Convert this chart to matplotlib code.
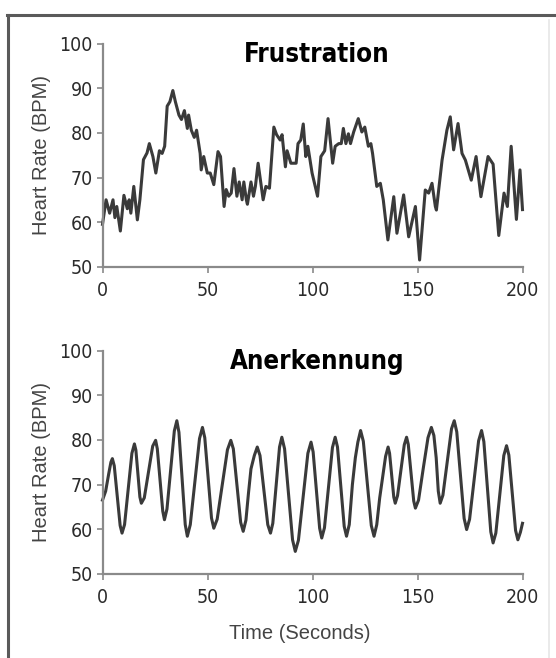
import numpy as np
import matplotlib
matplotlib.use("Agg")
import matplotlib.pyplot as plt
from matplotlib.lines import Line2D
from matplotlib import font_manager

# Frustration trace (time s, heart rate bpm)
frust_t = [0, 1.7, 3.4, 5, 5.9, 6.8, 8.5, 10.2, 11.8, 12.7, 13.5, 14.9, 16.6, 17.8,
           19.5, 21.2, 22.3, 24.0, 25.4, 27.1, 28.4, 29.6, 30.8, 32.1, 33.5, 34.7,
           36.4, 37.6, 39.0, 40.4, 41.0, 42.3, 43.7, 44.8, 46.5, 47.0, 48.2, 49.9,
           51.3, 53.0, 55.0, 56.2, 57.9, 58.9, 60.1, 61.3, 62.6, 64.0, 65.1, 66.5,
           67.3, 68.5, 69.0, 70.7, 71.9, 72.8, 74.1, 76.5, 77.8, 79.5, 81.6, 82.9,
           84.6, 85.5, 87.1, 87.9, 89.7, 92.2, 93.1, 94.4, 95.6, 96.8, 97.8, 99.8,
           102.4, 104.0, 105.8, 107.4, 109.6, 110.8, 112.5, 113.7, 114.7, 115.9,
           117.1, 118.1, 119.6, 121.8, 123.5, 124.9, 126.6, 127.8, 128.6, 130.6,
           132.3, 133.7, 135.9, 138.7, 140.2, 143.4, 145.8, 149.0, 151.0, 153.7,
           155.3, 156.9, 158.5, 159.0, 161.7, 162.5, 164.0, 165.6, 167.2, 169.3,
           171.2, 172.8, 175.6, 177.9, 180.2, 183.6, 186.0, 188.7, 191.2, 192.8,
           194.6, 197.1, 198.8, 200.0]
frust_v = [59.5, 65, 62, 65, 61, 63.5, 58, 66, 63, 65, 62, 68, 60.5, 65,
           74, 75.5, 77.6, 74.7, 71, 76, 75.4, 77, 86, 87, 89.5, 87,
           84, 83, 85, 81, 84, 80.6, 79, 80.6, 75.4, 71.7, 74.7, 71,
           71, 68.4, 75.8, 74.7, 63.5, 67.3, 65.8, 66.5, 72, 65.8, 69, 65,
           69, 65, 64, 69, 65.8, 68, 73.2, 65, 68, 67.6, 81.3, 79.6,
           78.4, 79.6, 72.4, 76, 73.2, 73.2, 77.6, 78.4, 82, 74.7, 77, 71,
           65.8, 74.7, 76, 83.2, 73.2, 77, 77.6, 77.6, 81, 77.6,
           79.8, 77.6, 80.2, 83.2, 80.2, 81.3, 77, 77.6, 75.4, 68,
           68.7, 65, 56, 65.7, 57.5, 66.1, 56.7, 63.5, 51.5, 67.2,
           66.5, 68.7, 63.5, 62.7, 73.9, 76.2, 80.6, 83.6, 76.2, 82.1,
           75.4, 73.9, 69.4, 74.7, 65.7, 74.7, 73, 57, 66.5, 63.5,
           77, 60.6, 71.7, 62.8]

# Anerkennung trace
anerk_t = [0, 1.5, 3.0, 4.0, 4.7, 5.6, 7.0, 8.4, 9.3, 10.5, 12.25, 14.0, 15.2, 15.9,
           16.85, 17.8, 18.5, 19.9, 21.9, 23.9, 25.3, 26.1, 27.4, 28.7, 29.5, 30.7,
           32.45, 34.2, 35.4, 36.4, 37.9, 39.4, 40.4, 41.8, 44.0, 46.2, 47.6, 48.7,
           50.3, 51.9, 53.0, 54.6, 57.05, 59.5, 61.1, 62.3, 64.05, 65.8, 67.0, 68.3,
           69.5, 70.7, 72.3, 73.7, 75.0, 76.85, 78.7, 80.0, 81.1, 82.7, 84.3, 85.4,
           86.7, 88.6, 90.5, 91.8, 93.3, 95.55, 97.8, 99.3, 100.3, 101.85, 103.4,
           104.4, 105.7, 107.6, 109.5, 110.8, 111.9, 113.5, 115.1, 116.2, 117.5,
           119.0, 120.4, 121.6, 122.9, 124.2, 126.1, 128.0, 129.3, 130.6, 132.0,
           133.2, 134.8, 136.0, 136.7, 137.7, 138.7, 139.4, 140.5, 142.1, 143.7,
           144.8, 145.6, 146.9, 148.2, 149.0, 150.5, 152.8, 155.0, 156.6, 157.8,
           158.9, 159.9, 160.8, 162.1, 164.15, 166.2, 167.5, 168.7, 170.45, 172.2,
           173.4, 174.8, 176.95, 179.1, 180.5, 181.6, 183.25, 184.9, 186.0, 187.3,
           189.2, 191.1, 192.4, 193.5, 195.1, 196.7, 197.8, 199.0, 200.0]
anerk_v = [66.5, 68.5, 72.5, 75, 75.8, 74.2, 67.5, 60.8, 59.1, 61, 69, 77, 79.1, 77.7,
           72.5, 67.2, 65.8, 67, 72.8, 78.6, 79.9, 78, 71, 64, 62.1, 64.5,
           73.2, 82, 84.3, 81.7, 71.3, 61, 58.4, 61, 70.6, 80.3, 82.8, 80.5,
           71.5, 62.5, 60.2, 62.2, 70, 77.8, 79.9, 78, 69.7, 61.5, 59.5, 62,
           68, 73.5, 76.5, 78.4, 76.5, 68.7, 61, 59.1, 61.3, 69.8, 78.4, 80.6,
           78, 67.8, 57.6, 55, 57.5, 67.2, 77, 79.5, 77.3, 68.7, 60.2,
           58, 60.3, 69.3, 78.3, 80.6, 78.4, 69.5, 60.6, 58.4, 61,
           70, 76, 79.5, 82.1, 79.7, 70.2, 60.8, 58.4, 61, 67,
           71, 76.3, 78.4, 77, 72, 67.2, 65.8, 67.5, 73.2, 78.9,
           80.6, 79, 72.6, 66.3, 64.7, 66.5, 73.8, 80.5, 82.8, 81,
           76, 68.5, 65.8, 67.6, 75, 82.5, 84.3, 81.8, 72.1, 62.4,
           59.9, 62.2, 71, 79.8, 82.1, 79.6, 69.5, 59.4, 56.9, 59.1,
           67.8, 76.5, 78.7, 76.6, 68.2, 59.7, 57.6, 59.3, 61.3]

xticks = [0, 50, 100, 150, 200]
yticks = [50, 60, 70, 80, 90, 100]
titles = ["Frustration", "Anerkennung"]

# look for a narrow font, otherwise Roboto
narrow = None
for f in font_manager.fontManager.ttflist:
    n = f.name.lower()
    if 'narrow' in n or 'condensed' in n:
        narrow = f.name
        break
    if str(f.stretch) in ('condensed', 'semi-condensed', 'extra-condensed'):
        narrow = f.name
        break
if narrow is None:
    narrow = 'Roboto'
    tick_size, title_size = 12.5, 17
else:
    tick_size, title_size = 14, 18.5
tick_font = [narrow, 'DejaVu Sans']
label_font = ['Liberation Sans', 'DejaVu Sans']

fig = plt.figure(figsize=(5.56, 6.58), dpi=100)
W, H = 556, 658

def make_axes(top_px):
    ax = fig.add_axes([102.5 / W, (H - top_px - 223) / H, 420 / W, 223 / H])
    return ax

ax1 = make_axes(43.7)
ax2 = make_axes(350.7)

for ax, t, v, title in [(ax1, frust_t, frust_v, titles[0]), (ax2, anerk_t, anerk_v, titles[1])]:
    ax.plot(t, v, color='#3a3a3a', lw=2.2, solid_joinstyle='round', clip_on=False)
    ax.set_xlim(0, 200)
    ax.set_ylim(50, 100)
    ax.set_xticks(xticks)
    ax.set_yticks(yticks)
    for s in ['top', 'right']:
        ax.spines[s].set_visible(False)
    for s in ['left', 'bottom']:
        ax.spines[s].set_color('#8a8a8a')
        ax.spines[s].set_linewidth(1.6)
    ax.tick_params(axis='both', direction='out', length=4, width=1.2, color='#8a8a8a',
                   labelcolor='#2b2b2b', labelsize=tick_size)
    ax.tick_params(axis='y', pad=3)
    ax.tick_params(axis='x', pad=6)
    for lab in ax.get_xticklabels() + ax.get_yticklabels():
        lab.set_family(tick_font)
        lab.set_fontstretch('condensed')
        lab.set_fontweight('medium')
    ax.set_ylabel('Heart Rate (BPM)', family=label_font, fontsize=14.5, color='#444444',
                  labelpad=6)
    ax.text(0.51, 0.95, title, transform=ax.transAxes, ha='center', va='center',
            family=tick_font, fontweight='bold', fontstretch='condensed',
            fontsize=title_size, color='black')

ax2.set_xlabel('Time (Seconds)', family=label_font, fontsize=14.5, color='#444444')
ax2.xaxis.set_label_coords(0.47, -0.225)

# outer frame (top and left edge, faint right edge)
fig.add_artist(Line2D([7 / W, 1], [1 - 14.5 / H, 1 - 14.5 / H], transform=fig.transFigure,
                      color='#5a5a5a', lw=2.2))
fig.add_artist(Line2D([8 / W, 8 / W], [0, 1 - 14.5 / H], transform=fig.transFigure,
                      color='#5a5a5a', lw=2.2))
fig.add_artist(Line2D([549 / W, 549 / W], [0, 1 - 20 / H], transform=fig.transFigure,
                      color='#e6e6e6', lw=1.2))

fig.savefig('out.png', dpi=100)
